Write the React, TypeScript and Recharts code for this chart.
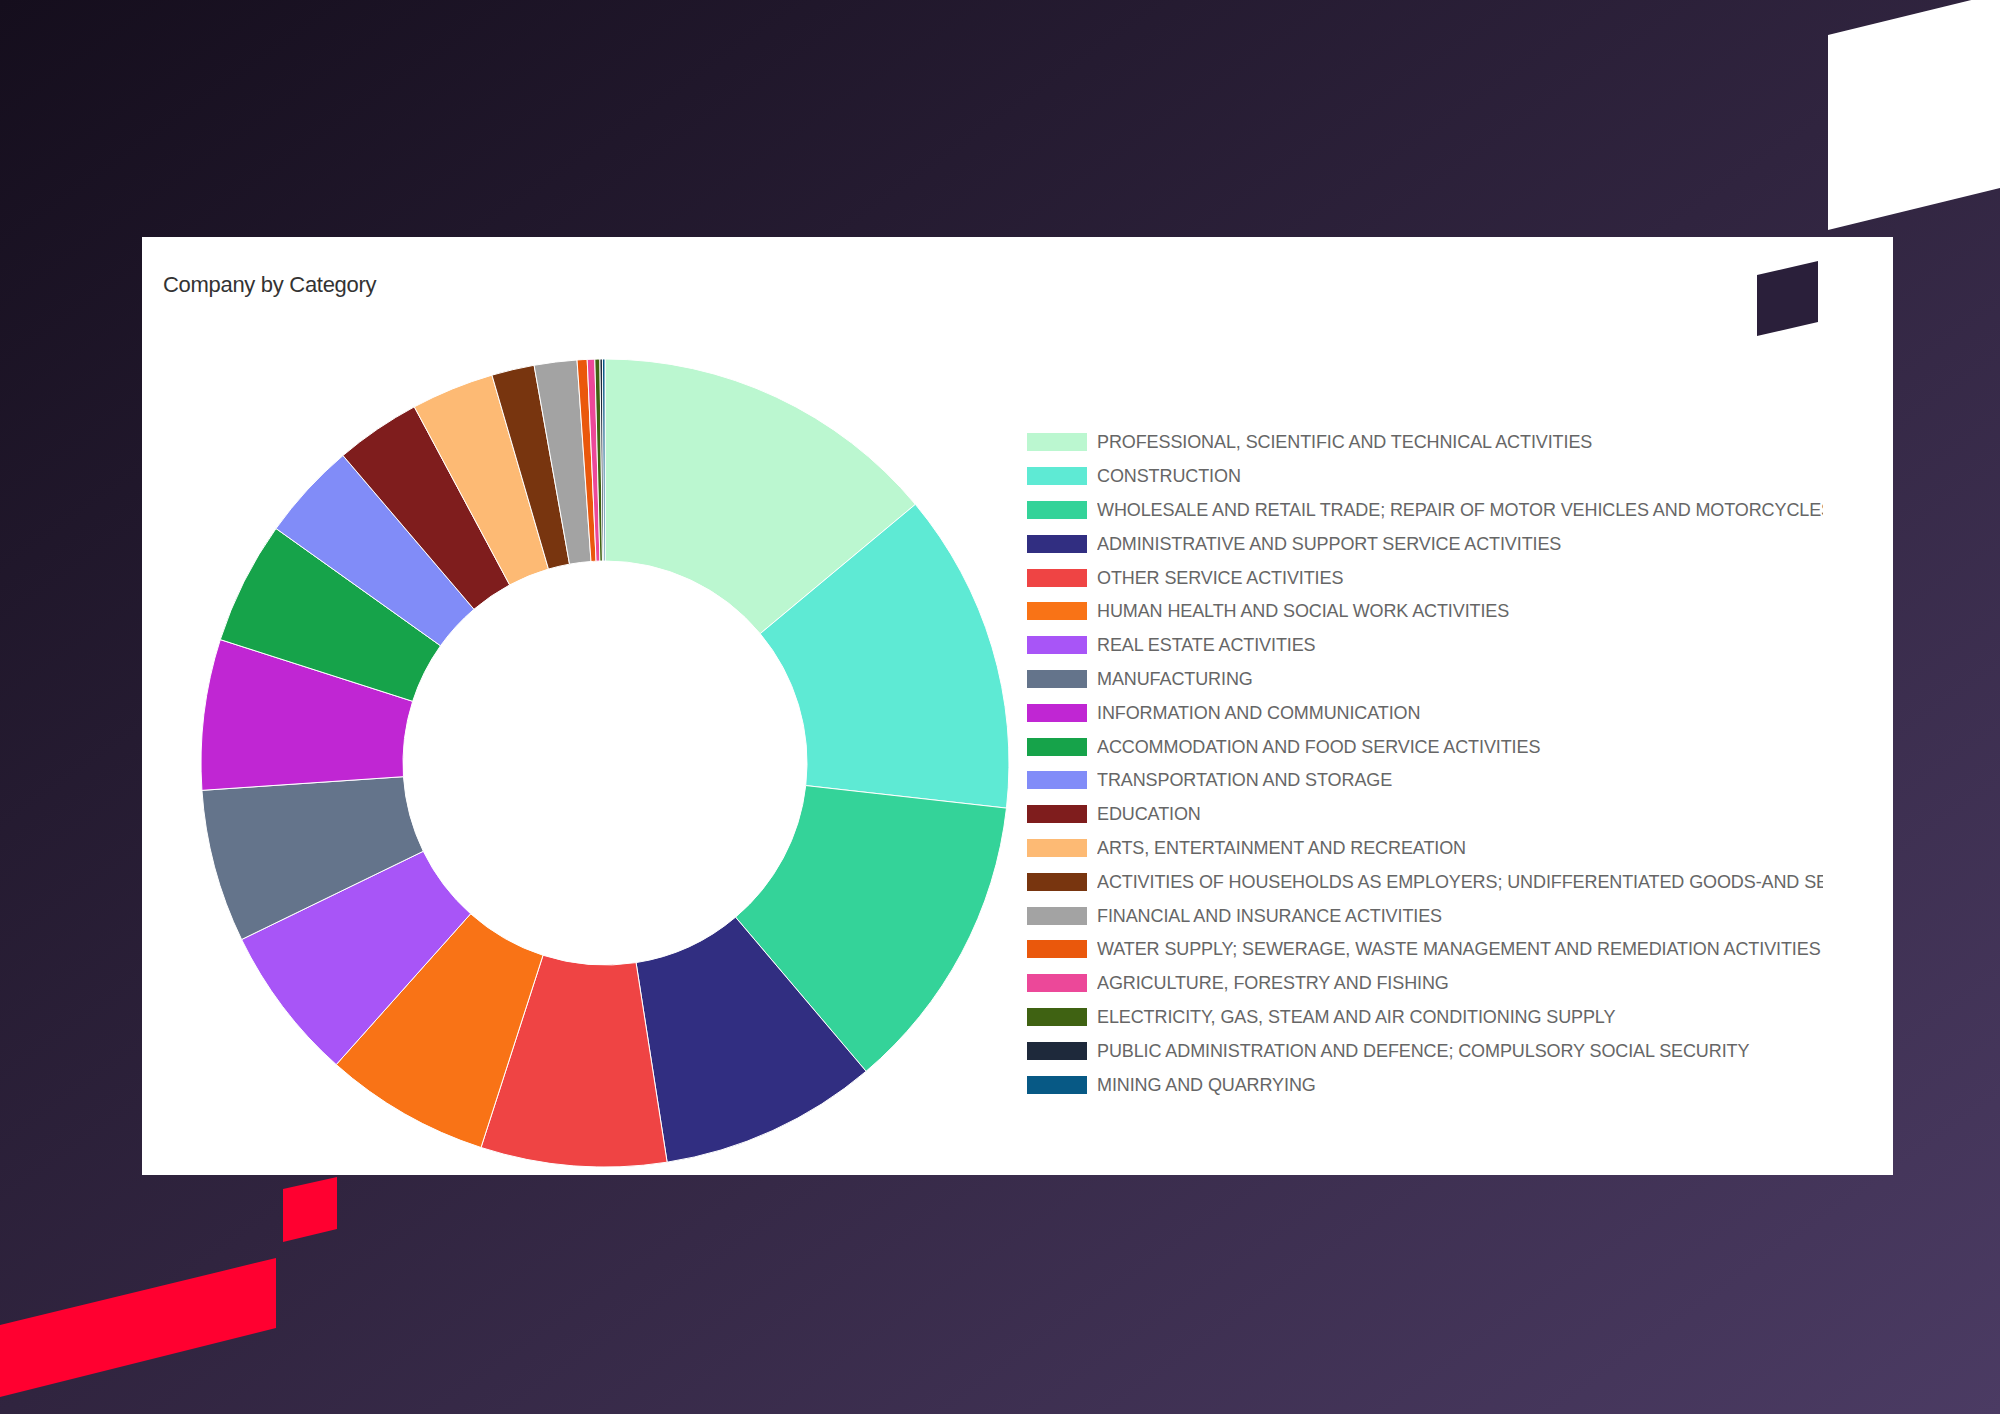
import React from 'react';
import { PieChart, Pie, Cell, Legend } from 'recharts';

const categories: string[] = [
  'PROFESSIONAL, SCIENTIFIC AND TECHNICAL ACTIVITIES',
  'CONSTRUCTION',
  'WHOLESALE AND RETAIL TRADE; REPAIR OF MOTOR VEHICLES AND MOTORCYCLES',
  'ADMINISTRATIVE AND SUPPORT SERVICE ACTIVITIES',
  'OTHER SERVICE ACTIVITIES',
  'HUMAN HEALTH AND SOCIAL WORK ACTIVITIES',
  'REAL ESTATE ACTIVITIES',
  'MANUFACTURING',
  'INFORMATION AND COMMUNICATION',
  'ACCOMMODATION AND FOOD SERVICE ACTIVITIES',
  'TRANSPORTATION AND STORAGE',
  'EDUCATION',
  'ARTS, ENTERTAINMENT AND RECREATION',
  'ACTIVITIES OF HOUSEHOLDS AS EMPLOYERS; UNDIFFERENTIATED GOODS-AND SERVICES-PRODUCING ACTIVITIES OF HOUSEHOLDS FOR OWN USE',
  'FINANCIAL AND INSURANCE ACTIVITIES',
  'WATER SUPPLY; SEWERAGE, WASTE MANAGEMENT AND REMEDIATION ACTIVITIES',
  'AGRICULTURE, FORESTRY AND FISHING',
  'ELECTRICITY, GAS, STEAM AND AIR CONDITIONING SUPPLY',
  'PUBLIC ADMINISTRATION AND DEFENCE; COMPULSORY SOCIAL SECURITY',
  'MINING AND QUARRYING',
];

const companyCounts: number[] = [
  139, 128, 120, 87, 74, 66, 62, 61, 60, 49, 39, 34, 33, 17, 17, 4, 3, 2, 1, 1,
];

const sliceColors: string[] = [
  '#bbf7d0', '#5eead4', '#34d399', '#312e81', '#ef4444',
  '#f97316', '#a855f7', '#64748b', '#c026d3', '#16a34a',
  '#818cf8', '#7f1d1d', '#fdba74', '#78350f', '#a3a3a3',
  '#ea580c', '#ec4899', '#3f6212', '#1e293b', '#075985',
];

const chartData = categories.map((name, i) => ({ name, value: companyCounts[i] }));

const renderLegend = () => (
  <div style={{ width: 800 }}>
    {categories.map((name, i) => (
      <div
        key={name}
        style={{ display: 'flex', alignItems: 'center', height: 33.8 }}
      >
        <div
          style={{
            width: 60,
            height: 18,
            background: sliceColors[i],
            flex: '0 0 auto',
          }}
        />
        <div
          style={{
            marginLeft: 10,
            width: 726,
            overflow: 'hidden',
            whiteSpace: 'nowrap',
            fontFamily: '"Liberation Sans", Arial, sans-serif',
            fontSize: 18,
            letterSpacing: -0.1,
            color: '#666',
            lineHeight: '20px',
          }}
        >
          {name}
        </div>
      </div>
    ))}
  </div>
);

export default function App() {
  return (
    <div
      style={{
        position: 'fixed',
        left: 0,
        top: 0,
        width: 2000,
        height: 1414,
        overflow: 'hidden',
        background: 'linear-gradient(to bottom right, #150e1d 0%, #30243f 50%, #4b3b63 100%)',
      }}
    >
      <svg
        width={2000}
        height={1414}
        style={{ position: 'absolute', left: 0, top: 0 }}
      >
        <polygon points="1828,35 2000,-7 2000,188 1828,230" fill="#ffffff" />
        <polygon points="283,1189 337,1177 337,1229 283,1242" fill="#ff0030" />
        <polygon points="0,1325 276,1258 276,1328 0,1397" fill="#ff0030" />
      </svg>
      <div
        style={{
          position: 'absolute',
          left: 142,
          top: 237,
          width: 1751,
          height: 938,
          background: '#ffffff',
        }}
      >
        <div
          style={{
            position: 'absolute',
            left: 21,
            top: 37,
            fontFamily: '"Liberation Sans", Arial, sans-serif',
            fontSize: 22,
            lineHeight: '22px',
            letterSpacing: -0.3,
            color: '#333',
            whiteSpace: 'nowrap',
          }}
        >
          Company by Category
        </div>
        <PieChart width={1751} height={938} margin={{ top: 0, right: 0, bottom: 0, left: 0 }}>
          <Pie
            data={chartData}
            dataKey="value"
            nameKey="name"
            cx={463}
            cy={526}
            innerRadius={202}
            outerRadius={404}
            startAngle={90}
            endAngle={-270}
            stroke="#ffffff"
            strokeWidth={1}
            isAnimationActive={false}
          >
            {chartData.map((d, i) => (
              <Cell key={d.name} fill={sliceColors[i]} />
            ))}
          </Pie>
          <Legend
            layout="vertical"
            content={renderLegend}
            wrapperStyle={{ position: 'absolute', left: 885, top: 188.5, width: 800, height: 676 }}
          />
        </PieChart>
      </div>
      <svg
        width={2000}
        height={1414}
        style={{ position: 'absolute', left: 0, top: 0, pointerEvents: 'none' }}
      >
        <polygon points="1757,275 1818,261 1818,322 1757,336" fill="#2a1f3a" />
      </svg>
    </div>
  );
}
